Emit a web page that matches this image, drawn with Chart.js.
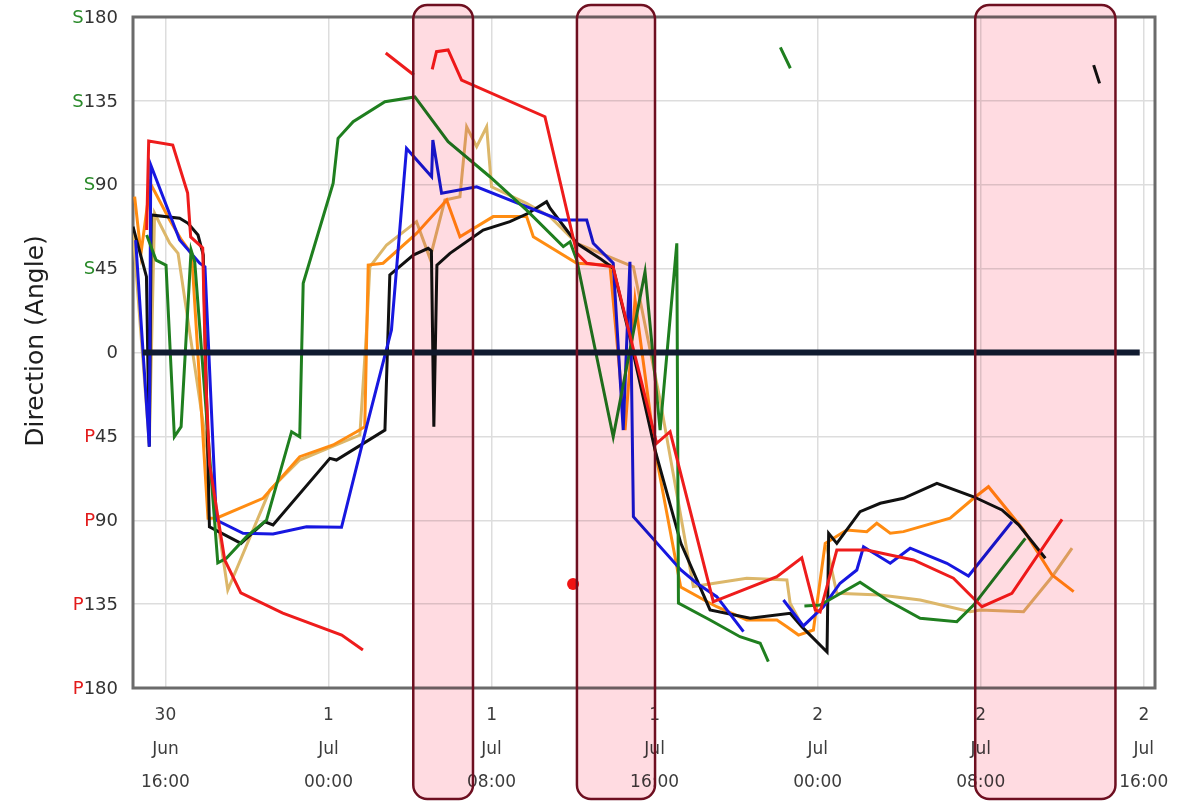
<!DOCTYPE html>
<html>
<head>
<meta charset="utf-8">
<title>Direction (Angle)</title>
<script src="https://cdn.jsdelivr.net/npm/chart.js@4.4.1/dist/chart.umd.min.js"></script>
<style>
  html, body { margin: 0; padding: 0; background: #fff; }
  #wrap { position: relative; width: 1189px; height: 811px; }
</style>
</head>
<body>
<div id="wrap"><canvas id="directionChart"></canvas></div>
<script>
// x values are hours counted from 30 Jun 00:00, y values are angles (S = +, P = -)

const tickHours  = [16, 24, 32, 40, 48, 56, 64];
const tickDays   = ['30', '1', '1', '1', '2', '2', '2'];
const tickMonths = ['Jun', 'Jul', 'Jul', 'Jul', 'Jul', 'Jul', 'Jul'];
const tickTimes  = ['16:00', '00:00', '08:00', '16:00', '00:00', '08:00', '16:00'];

const yTickValues = [180, 135, 90, 45, 0, -45, -90, -135, -180];
const yTickLabels = ['S180', 'S135', 'S90', 'S45', '0', 'P45', 'P90', 'P135', 'P180'];

// shaded periods (hours)
const highlightRanges = [[28.16, 31.09], [36.19, 40.02], [55.73, 62.61]];

const redHours  = [15.08, 15.18, 16.36, 17.09, 17.24, 17.83, 17.98, 18.17, 18.91, 19.70, 21.76, 24.65, 25.69, 26.2, 26.81, 28.19, 28.6, 29.09, 29.30, 29.87, 30.53, 34.62, 36.18, 36.67, 37.96, 40.10, 40.76, 42.88, 43.30, 46.00, 47.22, 47.88, 48.12, 48.94, 50.41, 52.70, 54.66, 56.06, 57.53, 59.99];
const redAngles = [65.7, 113.5, 111.3, 85.6, 62.0, 56.1, -14.8, -60.3, -111.3, -129.0, -139.8, -151.6, -159.6, null, 160.7, 148.9, null, 151.9, 161.4, 162.3, 146.2, 126.5, 53.4, 47.9, 46.0, -48.7, -42.5, -133.7, -131.9, -120.3, -110.1, -138.1, -139.2, -106.0, -106.0, -111.3, -121.1, -136.4, -129.2, -89.5];

const greenHours  = [15.08, 15.54, 16.03, 16.44, 16.77, 17.26, 17.44, 18.57, 18.99, 19.98, 20.96, 22.19, 22.59, 22.76, 24.23, 24.47, 25.21, 26.77, 28.24, 29.87, 31.92, 33.72, 35.52, 35.85, 36.18, 37.97, 39.53, 40.27, 41.09, 41.17, 42.72, 44.19, 45.18, 45.58, 45.9, 46.17, 46.66, 47.0, 47.35, 48.12, 50.08, 51.40, 53.03, 54.83, 55.65, 58.19];
const greenAngles = [63.0, 49.6, 46.9, -45.2, -39.8, 55.0, 48.5, -112.9, -110.4, -98.8, -89.9, -42.5, -45.2, 37.1, 90.8, 114.9, 123.8, 134.5, 137.1, 113.1, 94.3, 76.4, 56.8, 59.4, 49.6, -45.2, 43.3, -41.6, 58.6, -134.5, -143.5, -152.5, -156.0, -165.9, null, 163.7, 152.5, null, -136.0, -135.5, -123.3, -132.8, -142.6, -144.4, -135.5, -99.7];

const blueHours  = [14.54, 15.21, 15.28, 16.70, 17.68, 17.94, 18.50, 19.81, 21.28, 22.92, 24.64, 25.87, 27.09, 27.83, 29.06, 29.12, 29.55, 31.27, 35.36, 36.67, 36.99, 37.97, 38.46, 38.79, 38.96, 41.29, 42.07, 43.05, 44.36, 45.3, 46.32, 47.30, 48.28, 49.10, 49.92, 50.25, 51.56, 52.54, 54.34, 55.40, 57.53];
const blueAngles = [60.3, -50.5, 100.6, 60.4, 47.9, 46.0, -89.9, -97.0, -97.4, -93.5, -93.8, -39.8, 12.1, 109.5, 94.3, 114.0, 85.4, 88.9, 71.1, 71.1, 58.6, 47.9, -41.6, 48.7, -88.1, -116.7, -123.8, -131.0, -149.8, null, -132.8, -146.7, -136.4, -123.8, -116.7, -104.2, -113.1, -105.0, -113.1, -119.9, -90.8];

const blackHours  = [14.41, 15.07, 15.21, 15.31, 16.70, 17.11, 17.60, 17.86, 18.16, 19.71, 20.88, 21.28, 24.07, 24.39, 26.77, 27.01, 28.16, 28.89, 29.05, 29.17, 29.32, 29.96, 31.59, 32.90, 33.80, 34.70, 34.87, 36.18, 37.32, 37.97, 38.70, 40.02, 41.29, 42.72, 44.69, 46.65, 47.22, 48.46, 48.54, 48.94, 50.08, 51.07, 52.21, 53.85, 55.65, 57.04, 57.86, 59.17, 60.5, 61.54, 61.83];
const blackAngles = [67.5, 40.7, -50.5, 73.8, 72.0, 69.3, 63.0, 52.3, -93.5, -102.4, -90.8, -92.5, -56.8, -57.7, -41.6, 41.6, 52.3, 55.9, 54.5, -39.8, 46.9, 53.2, 65.7, 70.2, 74.7, 80.9, 77.4, 58.6, 50.5, 45.2, 12.1, -52.3, -102.4, -138.1, -142.6, -139.9, -147.1, -160.7, -97.0, -102.4, -85.4, -80.9, -78.2, -70.2, -77.4, -84.5, -92.5, -110.4, null, 154.2, 144.4];

const orangeHours  = [14.49, 14.80, 15.26, 16.21, 16.79, 17.29, 18.09, 18.50, 20.79, 22.59, 24.23, 25.38, 25.78, 25.95, 26.68, 28.32, 29.80, 30.45, 32.08, 33.72, 34.05, 36.18, 37.81, 38.55, 39.04, 40.02, 41.28, 42.72, 43.05, 44.52, 46.00, 46.49, 47.06, 47.79, 48.37, 49.43, 50.41, 50.90, 51.56, 52.21, 54.50, 55.65, 56.38, 58.10, 59.50, 60.56];
const orangeAngles = [83.6, 53.2, 90.8, 71.1, 60.4, 52.8, -88.9, -88.9, -78.2, -55.9, -49.6, -42.5, -39.8, 46.9, 47.9, 63.9, 81.8, 62.1, 72.9, 72.9, 62.1, 47.9, 46.9, -41.6, 28.2, -52.3, -125.8, -134.5, -136.4, -143.5, -143.5, -147.1, -151.6, -148.9, -102.4, -95.2, -96.1, -91.6, -97.0, -96.1, -88.9, -78.2, -72.0, -95.2, -119.4, -128.3];

const tanHours  = [14.41, 15.21, 15.47, 16.21, 16.62, 19.06, 21.12, 22.59, 25.54, 25.87, 26.03, 26.85, 28.32, 28.98, 29.71, 30.45, 30.78, 31.27, 31.76, 32.00, 33.72, 34.87, 36.18, 38.96, 40.27, 41.90, 44.52, 46.49, 46.65, 47.22, 47.8, 48.43, 48.94, 51.07, 53.03, 55.48, 55.98, 58.10, 59.50, 60.48];
const tanAngles = [65.7, -48.7, 74.7, 58.6, 53.2, -127.4, -73.8, -57.7, -44.3, 12.1, 46.0, 57.7, 70.2, 50.5, 81.8, 83.6, 121.1, 110.4, 121.1, 88.9, 80.0, 72.9, 58.6, 46.0, -25.5, -125.6, -121.1, -122.0, -134.5, -146.2, null, -103.3, -129.2, -130.1, -132.8, -139.1, -138.1, -139.1, -120.3, -105.0];

const zeroHours  = [14.89, 63.80];
const zeroAngles = [0, 0];

const dotHours  = [36.0];
const dotAngles = [-124.2];

function points(hours, angles) {
    return hours.map((h, i) => ({ x: h, y: angles[i] }));
}

function lineSet(label, hours, angles, color) {
    return {
        label: label,
        data: points(hours, angles),
        borderColor: color,
        backgroundColor: color,
        borderWidth: 3,
        pointRadius: 0,
        tension: 0,
        spanGaps: false,
        order: 2
    };
}

const overlayPlugin = {
    id: 'overlays',
    beforeDatasetsDraw(chart) {
        const { ctx, chartArea: a } = chart;
        ctx.save();
        ctx.strokeStyle = '#6b6b6b';
        ctx.lineWidth = 3;
        ctx.strokeRect(a.left, a.top, a.right - a.left, a.bottom - a.top);
        ctx.restore();
    },
    afterDraw(chart) {
        const { ctx, chartArea: a, scales } = chart;
        const x = scales.x;
        const y = scales.y;
        ctx.save();

        // y tick labels with coloured S / P prefix
        ctx.font = '18px "DejaVu Sans", sans-serif';
        ctx.textBaseline = 'middle';
        ctx.textAlign = 'right';
        yTickValues.forEach((v, i) => {
            const label = yTickLabels[i];
            const py = y.getPixelForValue(v) + 1;
            const right = a.left - 15;
            const prefix = /^[SP]/.test(label) ? label[0] : '';
            const num = label.slice(prefix.length);
            ctx.fillStyle = '#333333';
            ctx.fillText(num, right, py);
            if (prefix) {
                const w = ctx.measureText(num).width;
                ctx.fillStyle = prefix === 'S' ? '#2a8a2a' : '#e21b1b';
                ctx.fillText(prefix, right - w, py);
            }
        });

        // axis title
        ctx.save();
        ctx.translate(36, 341);
        ctx.rotate(-Math.PI / 2);
        ctx.textAlign = 'center';
        ctx.fillStyle = '#1e1e1e';
        ctx.font = '25px "DejaVu Sans", sans-serif';
        ctx.fillText('Direction (Angle)', 0, 0);
        ctx.restore();

        // shaded periods: pink tint over the plot, then the outline
        highlightRanges.forEach(([from, to]) => {
            const left = x.getPixelForValue(from);
            const right = x.getPixelForValue(to);
            const top = a.top - 12;
            const bottom = a.bottom + 111;
            ctx.beginPath();
            ctx.roundRect(left, top, right - left, bottom - top, 14);
            ctx.globalCompositeOperation = 'multiply';
            ctx.fillStyle = 'rgb(255, 219, 225)';
            ctx.fill();
            ctx.globalCompositeOperation = 'source-over';
            ctx.lineWidth = 2.5;
            ctx.strokeStyle = '#6e0f20';
            ctx.stroke();
        });
        ctx.restore();
    }
};

window.addEventListener('DOMContentLoaded', () => {
    const ctx = document.getElementById('directionChart');

    new Chart(ctx.getContext('2d'), {
        type: 'line',
        data: {
            datasets: [
                {
                    label: 'Zero',
                    data: points(zeroHours, zeroAngles),
                    borderColor: '#101b30',
                    borderWidth: 6,
                    pointRadius: 0,
                    order: 0
                },
                {
                    label: 'Marker',
                    data: points(dotHours, dotAngles),
                    showLine: false,
                    pointRadius: 6,
                    pointBackgroundColor: '#f01414',
                    pointBorderWidth: 0,
                    order: 1
                },
                lineSet('Red', redHours, redAngles, '#ee1c1c'),
                lineSet('Green', greenHours, greenAngles, '#1f7f1f'),
                lineSet('Blue', blueHours, blueAngles, '#1717e0'),
                lineSet('Black', blackHours, blackAngles, '#111111'),
                lineSet('Orange', orangeHours, orangeAngles, '#ff8c12'),
                lineSet('Tan', tanHours, tanAngles, '#dcb76a')
            ]
        },
        options: {
            responsive: true,
            maintainAspectRatio: false,
            animation: false,
            layout: { padding: { top: 17, right: 34, bottom: 0, left: 0 } },
            plugins: {
                legend: { display: false },
                tooltip: { enabled: false }
            },
            scales: {
                x: {
                    type: 'linear',
                    min: 14.41,
                    max: 64.55,
                    afterFit: (scale) => { scale.height = 123; },
                    afterBuildTicks: (scale) => {
                        scale.ticks = tickHours.map(v => ({ value: v }));
                    },
                    ticks: {
                        includeBounds: false,
                        padding: 11,
                        maxRotation: 0,
                        autoSkip: false,
                        color: '#3c3c3c',
                        font: { family: '"DejaVu Sans", sans-serif', size: 17, lineHeight: 1.97 },
                        callback: (value) => {
                            const i = tickHours.indexOf(value);
                            return i < 0 ? '' : [tickDays[i], tickMonths[i], tickTimes[i]];
                        }
                    },
                    grid: { color: '#dddddd', lineWidth: 1.5, drawTicks: false },
                    border: { display: false }
                },
                y: {
                    min: -180,
                    max: 180,
                    afterFit: (scale) => { scale.width = 133; },
                    afterBuildTicks: (scale) => {
                        scale.ticks = yTickValues.map(v => ({ value: v }));
                    },
                    ticks: { display: false },
                    grid: { color: '#dddddd', lineWidth: 1.5, drawTicks: false },
                    border: { display: false }
                }
            }
        },
        plugins: [overlayPlugin]
    });
});
</script>
</body>
</html>
